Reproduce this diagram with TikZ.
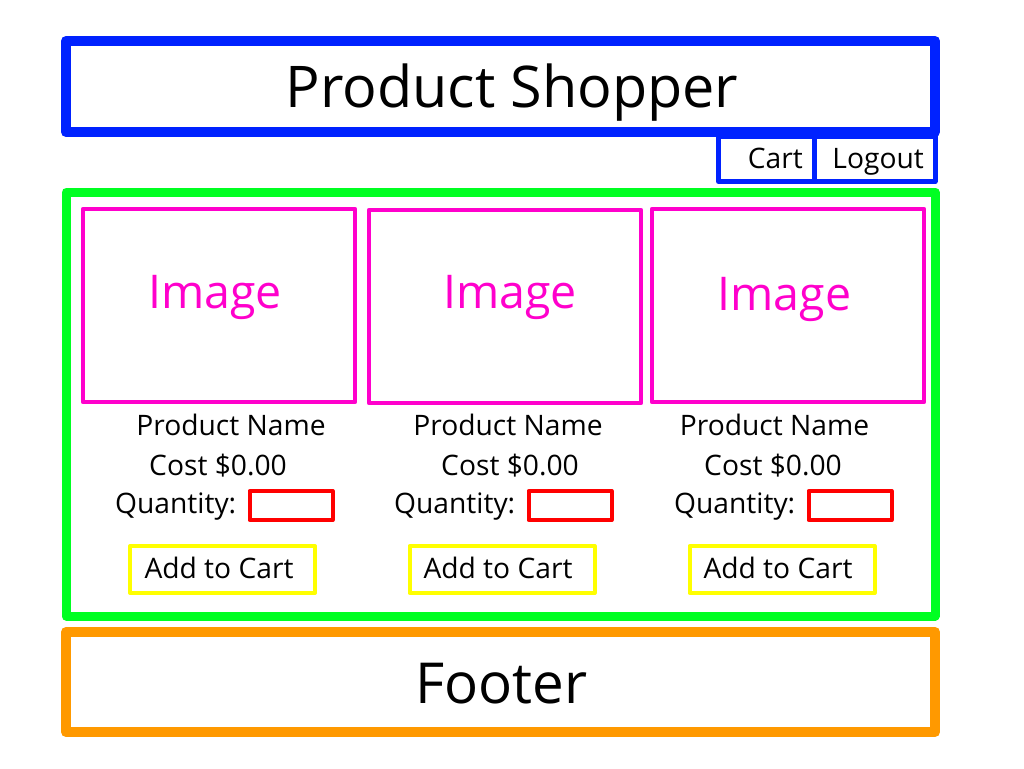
\documentclass[tikz,border=0pt]{standalone}
\usepackage{fontspec}
\setmainfont{Open Sans}
\usetikzlibrary{positioning}
\definecolor{headblue}{RGB}{0,34,255}
\definecolor{maingreen}{RGB}{0,255,34}
\definecolor{imgpink}{RGB}{255,0,204}
\definecolor{qtyred}{RGB}{255,0,0}
\definecolor{btnyellow}{RGB}{255,255,0}
\definecolor{footorange}{RGB}{255,153,0}
\tikzset{
  box/.style={draw, inner sep=0pt, line join=round},
  lbl/.style={inner sep=0pt, anchor=base, font=\fontsize{28.2}{31}\selectfont},
  img/.style={box, draw=imgpink, line width=4.5pt, minimum width=272pt, minimum height=193pt},
  qty/.style={box, draw=qtyred, line width=4pt, minimum width=83pt, minimum height=29pt},
  btn/.style={box, draw=btnyellow, line width=4pt, minimum width=185pt, minimum height=47pt}
}
\begin{document}
\begin{tikzpicture}[x=1pt, y=-1pt]
  \useasboundingbox (0,0) rectangle (1024,768);

  % header and menu
  \node (head) [box, draw=headblue, line width=10pt, minimum width=869pt, minimum height=91pt] at (500.5,86.5) {};
  \node (title) [lbl, font=\fontsize{57.5}{60}\selectfont] at (512,107) {Product Shopper};
  \node (cart) [box, draw=headblue, line width=5pt, minimum width=96pt, minimum height=45pt] at (766.5,159) {};
  \node (logout) [box, draw=headblue, line width=5pt, minimum width=120.5pt, minimum height=45pt] at (874.75,159) {};
  \node (carttxt) [lbl, anchor=base east] at (803,168) {Cart};
  \node (logouttxt) [lbl, anchor=base east] at (924,168) {Logout};

  % products
  \node (main) [box, draw=maingreen, line width=9pt, minimum width=869pt, minimum height=424pt] at (500.5,404) {};

  \node (img1) [img] at (219,305.5) {};
  \node (img2) [img] at (505,306.5) {};
  \node (img3) [img] at (788,305.5) {};
  \node (imgtxt1) [lbl, text=imgpink, font=\fontsize{46.5}{50}\selectfont] at (215,308) {Image};
  \node (imgtxt2) [lbl, text=imgpink, font=\fontsize{46.5}{50}\selectfont] at (510,308) {Image};
  \node (imgtxt3) [lbl, text=imgpink, font=\fontsize{46.5}{50}\selectfont] at (784.5,310) {Image};

  \node (name1) [lbl] at (231,435) {Product Name};
  \node (name2) [lbl] at (508,435) {Product Name};
  \node (name3) [lbl] at (774.5,435) {Product Name};
  \node (cost1) [lbl] at (218,475) {Cost \$0.00};
  \node (cost2) [lbl] at (510,475) {Cost \$0.00};
  \node (cost3) [lbl] at (773,475) {Cost \$0.00};

  \node (qtytxt1) [lbl, anchor=base west] at (115,513) {Quantity:};
  \node (qtytxt2) [lbl, anchor=base west] at (394,513) {Quantity:};
  \node (qtytxt3) [lbl, anchor=base west] at (674,513) {Quantity:};
  \node (qty1) [qty] at (291,505.5) {};
  \node (qty2) [qty] at (570,505.5) {};
  \node (qty3) [qty] at (850,505.5) {};

  \node (btn1) [btn] at (222.5,569.5) {};
  \node (btn2) [btn] at (502,569.5) {};
  \node (btn3) [btn] at (782,569.5) {};
  \node (btntxt1) [lbl] at (219,578) {Add to Cart};
  \node (btntxt2) [lbl] at (498,578) {Add to Cart};
  \node (btntxt3) [lbl] at (778,578) {Add to Cart};

  % footer
  \node (foot) [box, draw=footorange, line width=10pt, minimum width=869pt, minimum height=100pt] at (500.5,682) {};
  \node (foottxt) [lbl, font=\fontsize{56.5}{60}\selectfont] at (501.5,703) {Footer};
\end{tikzpicture}
\end{document}
